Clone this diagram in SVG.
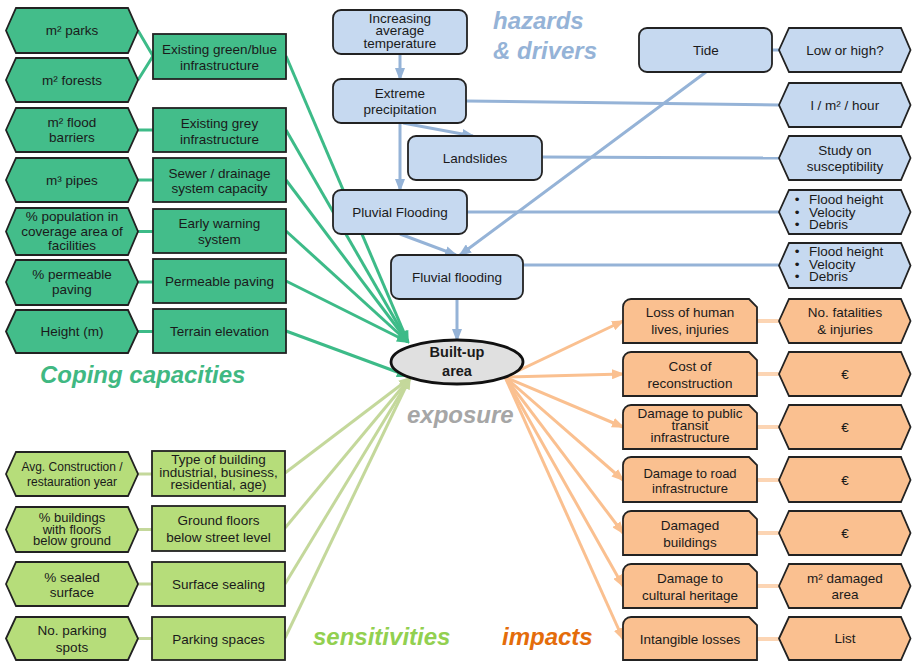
<svg xmlns="http://www.w3.org/2000/svg" width="912" height="661" viewBox="0 0 912 661">
<defs>
<style>
text{font-family:"Liberation Sans",Arial,sans-serif;font-size:13.5px;fill:#1a1a1a;text-anchor:middle}
.nd{stroke:#222;stroke-width:1.8}
.cg{fill:#43bd8a}.sg{fill:#b6dd7a}.bl{fill:#c6d9f0}.or{fill:#fac090}
.lg{stroke:#3dbb88;stroke-width:3;fill:none}
.ls{stroke:#c4d89b;stroke-width:3;fill:none}
.lb{stroke:#95b3d7;stroke-width:3;fill:none}
.lo{stroke:#fac090;stroke-width:3;fill:none}
.lp{stroke:#fcd5b4;stroke-width:4;fill:none}
.title{font-size:24px;font-weight:bold;font-style:italic;text-anchor:start}
.sm{font-size:12px}
</style>
<marker id="ag" markerUnits="userSpaceOnUse" markerWidth="13" markerHeight="10" refX="11" refY="5" orient="auto"><path d="M0,0 L13,5 L0,10 z" fill="#3dbb88"/></marker>
<marker id="as" markerUnits="userSpaceOnUse" markerWidth="13" markerHeight="10" refX="11" refY="5" orient="auto"><path d="M0,0 L13,5 L0,10 z" fill="#c4d89b"/></marker>
<marker id="ab" markerUnits="userSpaceOnUse" markerWidth="13" markerHeight="10" refX="11" refY="5" orient="auto"><path d="M0,0 L13,5 L0,10 z" fill="#95b3d7"/></marker>
<marker id="ao" markerUnits="userSpaceOnUse" markerWidth="13" markerHeight="10" refX="11" refY="5" orient="auto"><path d="M0,0 L13,5 L0,10 z" fill="#fac090"/></marker>
</defs>
<rect width="912" height="661" fill="#fff"/>

<g id="connectors">
<path class="lg" d="M138,30.5 L153,56 M138,80 L153,56 M138,130 L153,130 M138,180 L153,180 M138,231.5 L153,231.5 M138,282 L153,282 M138,331.5 L153,331.5"/>
<path class="lg" marker-end="url(#ag)" d="M286,56 L408,342"/>
<path class="lg" marker-end="url(#ag)" d="M286,130 L408,342"/>
<path class="lg" marker-end="url(#ag)" d="M286,180 L408,342"/>
<path class="lg" marker-end="url(#ag)" d="M286,231 L408,342"/>
<path class="lg" marker-end="url(#ag)" d="M286,281 L408,342"/>
<path class="lg" marker-end="url(#ag)" d="M286,331 L408,376"/>
<path class="ls" d="M138,474 L152,474 M138,529.5 L152,529.5 M138,584 L152,584 M138,638.5 L152,638.5"/>
<path class="ls" marker-end="url(#as)" d="M285,473 L410,378"/>
<path class="ls" marker-end="url(#as)" d="M285,528 L410,378"/>
<path class="ls" marker-end="url(#as)" d="M285,584 L410,378"/>
<path class="ls" marker-end="url(#as)" d="M285,638 L410,378"/>
<path class="lb" marker-end="url(#ab)" d="M400,54 L400,79"/>
<path class="lb" marker-end="url(#ab)" d="M403,123 L473,136"/>
<path class="lb" marker-end="url(#ab)" d="M400,123 L400,190"/>
<path class="lb" d="M466,101 L779,105"/>
<path class="lb" d="M542,157 L779,158"/>
<path class="lb" d="M772,50 L779,50"/>
<path class="lb" marker-end="url(#ab)" d="M706,72 L460,255"/>
<path class="lb" marker-end="url(#ab)" d="M400,234 L456,255"/>
<path class="lb" d="M467,212 L779,212"/>
<path class="lb" d="M523,265 L779,265"/>
<path class="lb" marker-end="url(#ab)" d="M457,299 L457,340"/>
<path class="lo" marker-end="url(#ao)" d="M505,377 L623,321"/>
<path class="lo" marker-end="url(#ao)" d="M505,377 L623,374"/>
<path class="lo" marker-end="url(#ao)" d="M505,377 L623,427"/>
<path class="lo" marker-end="url(#ao)" d="M505,377 L623,480"/>
<path class="lo" marker-end="url(#ao)" d="M505,377 L623,533"/>
<path class="lo" marker-end="url(#ao)" d="M505,377 L623,586"/>
<path class="lo" marker-end="url(#ao)" d="M505,377 L623,639"/>
<path class="lp" d="M757,321 L779,321 M757,374 L779,374 M757,427 L779,427 M757,480 L779,480 M757,533 L779,533 M757,586 L779,586 M757,639 L779,639"/>
</g>

<g id="labels">
<text class="title" x="40" y="383" fill="#40b882" style="fill:#40b882">Coping capacities</text>
<text class="title" x="493" y="29" style="fill:#95b3d7">hazards</text>
<text class="title" x="493" y="59" style="fill:#95b3d7">&amp; drivers</text>
<text class="title" x="407" y="423" style="fill:#a6a6a6">exposure</text>
<text class="title" x="313" y="645" style="fill:#92d050">sensitivities</text>
<text class="title" x="502" y="645" style="fill:#e46c0a">impacts</text>
</g>

<!-- coping indicators -->
<g id="h-parks"><path class="nd cg" d="M6,30.5 L16,8 L128,8 L138,30.5 L128,53 L16,53 Z"/><text x="72" y="35">m² parks</text></g>
<g id="h-forests"><path class="nd cg" d="M6,80 L16,58 L128,58 L138,80 L128,102 L16,102 Z"/><text x="72" y="84.5">m² forests</text></g>
<g id="h-flood"><path class="nd cg" d="M6,130 L16,108 L128,108 L138,130 L128,152 L16,152 Z"/><text x="72" y="127">m² flood</text><text x="72" y="141.5">barriers</text></g>
<g id="h-pipes"><path class="nd cg" d="M6,180 L16,158 L128,158 L138,180 L128,202 L16,202 Z"/><text x="72" y="185">m³ pipes</text></g>
<g id="h-population"><path class="nd cg" d="M6,231.5 L16,208 L128,208 L138,231.5 L128,255 L16,255 Z"/><text x="72" y="221">% population in</text><text x="72" y="235.5">coverage area of</text><text x="72" y="250">facilities</text></g>
<g id="h-permeable"><path class="nd cg" d="M6,282 L16,260 L128,260 L138,282 L128,305 L16,305 Z"/><text x="72" y="279">% permeable</text><text x="72" y="293.5">paving</text></g>
<g id="h-height"><path class="nd cg" d="M6,331.5 L16,310 L128,310 L138,331.5 L128,353 L16,353 Z"/><text x="72" y="336">Height (m)</text></g>

<!-- coping capacities -->
<g id="c-greenblue"><rect class="nd cg" x="153" y="34" width="133" height="45"/><text x="219.5" y="53.5">Existing green/blue</text><text x="219.5" y="70">infrastructure</text></g>
<g id="c-grey"><rect class="nd cg" x="153" y="108" width="133" height="44"/><text x="219.5" y="128">Existing grey</text><text x="219.5" y="144">infrastructure</text></g>
<g id="c-sewer"><rect class="nd cg" x="153" y="158" width="133" height="44"/><text x="219.5" y="177.5">Sewer / drainage</text><text x="219.5" y="192.5">system capacity</text></g>
<g id="c-warning"><rect class="nd cg" x="153" y="209" width="133" height="44"/><text x="219.5" y="228">Early warning</text><text x="219.5" y="244">system</text></g>
<g id="c-paving"><rect class="nd cg" x="153" y="259" width="133" height="44"/><text x="219.5" y="286">Permeable paving</text></g>
<g id="c-terrain"><rect class="nd cg" x="153" y="309" width="133" height="44"/><text x="219.5" y="335.5">Terrain elevation</text></g>

<!-- sensitivity indicators -->
<g id="h-construction"><path class="nd sg" d="M6,474 L16,452 L128,452 L138,474 L128,496 L16,496 Z"/><text class="sm" x="72" y="471">Avg. Construction /</text><text class="sm" x="72" y="485.5">restauration year</text></g>
<g id="h-buildings"><path class="nd sg" d="M6,529.5 L16,507 L128,507 L138,529.5 L128,552 L16,552 Z"/><text x="72" y="522" style="font-size:13px">% buildings</text><text x="72" y="533.5" style="font-size:13px">with floors</text><text x="72" y="545" style="font-size:13px">below ground</text></g>
<g id="h-sealed"><path class="nd sg" d="M6,584 L16,562 L128,562 L138,584 L128,606 L16,606 Z"/><text x="72" y="582">% sealed</text><text x="72" y="597">surface</text></g>
<g id="h-parking"><path class="nd sg" d="M6,638.5 L16,617 L128,617 L138,638.5 L128,660 L16,660 Z"/><text x="72" y="635">No. parking</text><text x="72" y="652">spots</text></g>

<!-- sensitivities -->
<g id="s-type"><rect class="nd sg" x="152" y="451" width="133" height="45"/><text x="218.5" y="464">Type of building</text><text x="218.5" y="476.5">industrial, business,</text><text x="218.5" y="489">residential, age)</text></g>
<g id="s-ground"><rect class="nd sg" x="152" y="506" width="133" height="45"/><text x="218.5" y="525">Ground floors</text><text x="218.5" y="542">below street level</text></g>
<g id="s-sealing"><rect class="nd sg" x="152" y="562" width="133" height="44"/><text x="218.5" y="588.5">Surface sealing</text></g>
<g id="s-parking"><rect class="nd sg" x="152" y="617" width="133" height="43"/><text x="218.5" y="643.5">Parking spaces</text></g>

<!-- hazards -->
<g id="b-temp"><rect class="nd bl" x="333" y="10" width="134" height="44" rx="8"/><text x="400" y="23">Increasing</text><text x="400" y="35">average</text><text x="400" y="47.5">temperature</text></g>
<g id="b-precip"><rect class="nd bl" x="333" y="79" width="133" height="44" rx="8"/><text x="400" y="98">Extreme</text><text x="400" y="114">precipitation</text></g>
<g id="b-landslides"><rect class="nd bl" x="408" y="136" width="134" height="44" rx="8"/><text x="475" y="162.5">Landslides</text></g>
<g id="b-pluvial"><rect class="nd bl" x="333" y="190" width="134" height="44" rx="8"/><text x="400" y="217">Pluvial Flooding</text></g>
<g id="b-fluvial"><rect class="nd bl" x="391" y="255" width="132" height="44" rx="8"/><text x="457" y="282">Fluvial flooding</text></g>
<g id="b-tide"><rect class="nd bl" x="639" y="28" width="133" height="44" rx="8"/><text x="706" y="55">Tide</text></g>

<g id="bh-tide"><path class="nd bl" d="M779,50 L789,28 L901,28 L910.5,50 L901,72 L789,72 Z"/><text x="845" y="55">Low or high?</text></g>
<g id="bh-precip"><path class="nd bl" d="M779,105 L789,83 L901,83 L910.5,105 L901,127 L789,127 Z"/><text x="845" y="109.5">l / m² / hour</text></g>
<g id="bh-landslides"><path class="nd bl" d="M779,158 L789,136 L901,136 L910.5,158 L901,180 L789,180 Z"/><text x="845" y="154.5">Study on</text><text x="845" y="170.5">susceptibility</text></g>
<g id="bh-pluvial"><path class="nd bl" d="M779,212 L789,190 L901,190 L910.5,212 L901,234 L789,234 Z"/><text x="797" y="203.5">•</text><text x="809" y="203.5" style="text-anchor:start">Flood height</text><text x="797" y="216.5">•</text><text x="809" y="216.5" style="text-anchor:start">Velocity</text><text x="797" y="229">•</text><text x="809" y="229" style="text-anchor:start">Debris</text></g>
<g id="bh-fluvial"><path class="nd bl" d="M779,265.5 L789,243 L901,243 L910.5,265.5 L901,288 L789,288 Z"/><text x="797" y="256">•</text><text x="809" y="256" style="text-anchor:start">Flood height</text><text x="797" y="268.5">•</text><text x="809" y="268.5" style="text-anchor:start">Velocity</text><text x="797" y="281">•</text><text x="809" y="281" style="text-anchor:start">Debris</text></g>

<!-- exposure -->
<g id="built-up"><ellipse cx="457" cy="362" rx="66" ry="22" fill="#e0e0e0" stroke="#111" stroke-width="2.8"/><text x="457" y="357" style="font-weight:bold;font-size:14.5px">Built-up</text><text x="457" y="375.5" style="font-weight:bold;font-size:14.5px">area</text></g>

<!-- impacts -->
<g id="o-lives"><path class="nd or" d="M623,343 L623,307 A8,8 0 0 1 631,299 L749,299 L757,307 L757,343 Z"/><text x="690" y="317">Loss of human</text><text x="690" y="334">lives, injuries</text></g>
<g id="o-cost"><path class="nd or" d="M623,396 L623,360 A8,8 0 0 1 631,352 L749,352 L757,360 L757,396 Z"/><text x="690" y="371">Cost of</text><text x="690" y="388">reconstruction</text></g>
<g id="o-transit"><path class="nd or" d="M623,449 L623,413 A8,8 0 0 1 631,405 L749,405 L757,413 L757,449 Z"/><text x="690" y="418">Damage to public</text><text x="690" y="429.5">transit</text><text x="690" y="441.5">infrastructure</text></g>
<g id="o-road"><path class="nd or" d="M623,502 L623,465 A8,8 0 0 1 631,457 L749,457 L757,465 L757,502 Z"/><text x="690" y="478" style="font-size:13px">Damage to road</text><text x="690" y="493" style="font-size:13px">infrastructure</text></g>
<g id="o-buildings"><path class="nd or" d="M623,555 L623,519 A8,8 0 0 1 631,511 L749,511 L757,519 L757,555 Z"/><text x="690" y="530">Damaged</text><text x="690" y="547">buildings</text></g>
<g id="o-heritage"><path class="nd or" d="M623,608 L623,572 A8,8 0 0 1 631,564 L749,564 L757,572 L757,608 Z"/><text x="690" y="583">Damage to</text><text x="690" y="599.5">cultural heritage</text></g>
<g id="o-intangible"><path class="nd or" d="M623,660 L623,625 A8,8 0 0 1 631,617 L749,617 L757,625 L757,660 Z"/><text x="690" y="644">Intangible losses</text></g>

<g id="oh-lives"><path class="nd or" d="M779,321 L789,299 L901,299 L910.5,321 L901,343 L789,343 Z"/><text x="845" y="317">No. fatalities</text><text x="845" y="334">&amp; injuries</text></g>
<g id="oh-cost"><path class="nd or" d="M779,374 L789,352 L901,352 L910.5,374 L901,396 L789,396 Z"/><text x="845" y="379">€</text></g>
<g id="oh-transit"><path class="nd or" d="M779,427 L789,405 L901,405 L910.5,427 L901,449 L789,449 Z"/><text x="845" y="432">€</text></g>
<g id="oh-road"><path class="nd or" d="M779,480 L789,457 L901,457 L910.5,480 L901,502 L789,502 Z"/><text x="845" y="484.5">€</text></g>
<g id="oh-buildings"><path class="nd or" d="M779,533 L789,511 L901,511 L910.5,533 L901,555 L789,555 Z"/><text x="845" y="537.5">€</text></g>
<g id="oh-heritage"><path class="nd or" d="M779,586 L789,564 L901,564 L910.5,586 L901,608 L789,608 Z"/><text x="845" y="583">m² damaged</text><text x="845" y="598.5">area</text></g>
<g id="oh-intangible"><path class="nd or" d="M779,638.5 L789,617 L901,617 L910.5,638.5 L901,660 L789,660 Z"/><text x="845" y="643">List</text></g>
</svg>
